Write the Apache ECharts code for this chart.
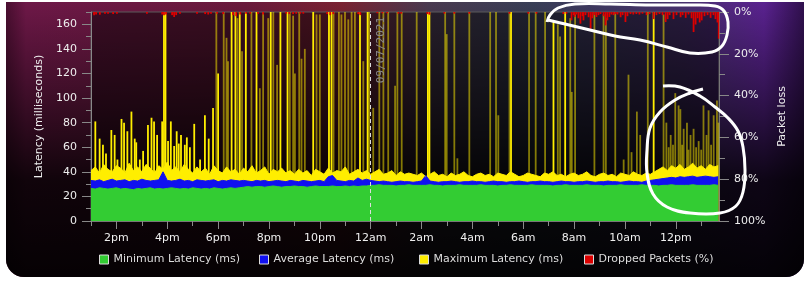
<!DOCTYPE html>
<html><head><meta charset="utf-8">
<script src="https://cdn.jsdelivr.net/npm/echarts@6/dist/echarts.min.js"></script>
<style>html,body{margin:0;padding:0;background:#fff;}#c{width:808px;height:283px;}</style>
</head><body><div id="c"></div>
<script>
// ---- data (time in hours since 00:00 of the first day; 10-minute samples from 13:00) ----
const START_HOUR = 13, STEP_HOURS = 1 / 6;
const minLatency = [
26.5,26,27,26.5,26,26.5,27,26,26.5,26, 25.5,26.5,26,26.5,27,26,26.5,26,26.5,27,
26.5,26,26.5,26,27,26.5,26,26.5,26,27, 26.5,26,26.5,27,26.5,27,
27.5,28,27.5,28,28,27.5,28,28.5,28,27.5, 28,28,28.5,28,28,27.5,28,28.5,28,28,
28,28.5,28,28,28.5,28,28.5,28,28.5,28.5,
29,29,29.5,29,29,29,28.5,29,29,29.5, 29,29,29,29,29.5,29,29,28.5,29,29,
29,29.5,29,29,29,29,29.5,29,29,29, 28.5,29,29,29.5,29,29,29,29,29.5,29,
29,29,29,28.5,29,29,29.5,29,29,29, 29,29.5,29,29,29,28.5,29,29,29,29.5,
29,29,29,29,29.5,29,29,29,28.5,29, 29,29.5,29,29,29,29,29.5,29,29,29, 29,29.5,29
];
const avgLatency = [
33,32.5,33.5,32,33,34,32.5,33,33.5,32, 33,32.5,34,33,32.5,33,33.5,40,33,32.5,
33,34,32.5,33,32,33.5,33,32.5,33,33.5, 32,33,32.5,33.5,33,32.5,
33,32.5,32,33,32.5,33,32,32.5,33,32.5, 32,33,32.5,32,33,32.5,32,32.5,33,32,
36,37,33,32.5,32,33,32.5,35,33,34,
33,32.5,32,32.5,32,31.5,32,32.5,32,32, 31.5,32,32.5,37,32.5,32,31.5,32,32,32.5,
32,31.5,32,32,32.5,32,32,31.5,32,32.5, 32,32,31.5,32,32,32.5,32,31.5,32,32,
32.5,32,32,31.5,32,32.5,32,32,31.5,32, 32,32.5,32,31.5,32,32,32.5,32,32,31.5,
32,32.5,32,32,31.5,32.5,33,
33.5,34,34.5,35,35.5,35,36,35.5,36,36.5,35.5,36,36.5,36,35.5,36
];
const maxLatencyBase = [
41,44,39,46,42,40,45,43,39,47, 41,44,40,46,43,39,45,42,48,41, 44,40,46,42,39,44,
40,43,38,45,41,39,44,40,42,38, 43,40,45,39,41,44,38,42,40,43, 39,41,38,42,
39,41,37,42,40,38,43,39,41,40, 44,38,40,42,39,41,38,40,42,38, 39,41,37,40,38,39,
38,37,39,36,38,40,37,38,36,39, 37,38,40,37,36,38,39,37,38,36, 39,38,37,40,38,36,37,39,38,37,
36,39,38,40,37,38,36,38,39,37, 38,40,37,36,38,39,37,38,36,39, 38,37,40,38,37,39,38,
40,42,44,41,45,43,46,42,44,47,43,45,42,46,44,45
];
// short bursts of maximum latency: [hour, ms]
const maxSpikesBright = [
[13.17,81],[13.34,67],[13.47,62],[13.59,55],[13.80,74],[13.93,70],[14.04,50],[14.20,83],[14.30,80],[14.43,73],
[14.59,89],[14.72,67],[14.78,64],[14.92,50],[15.05,57],[15.24,78],[15.38,84],[15.48,81],[15.60,70],[15.80,81],
[15.87,175],[15.93,175],[16.03,65],[16.14,81],[16.27,61],[16.37,73],[16.45,63],[16.54,70],[16.69,62],[16.77,68],
[16.89,60],[17.06,79],[17.29,50],[17.48,86],[17.63,67],[17.80,92],[18.00,120],[18.53,175],[18.68,175],[18.85,175],
[19.09,175],[19.51,175],[20.07,175],[20.45,175],[20.73,175],[21.74,175],[22.36,175],[22.46,175],[23.58,175],[23.88,175],
[26.25,175],[26.31,175],[29.52,175],[31.19,162],[31.65,175],[35.13,175]
];
const maxSpikesDim = [
[17.93,175],[18.22,175],[18.33,149],[18.39,130],[18.76,165],[18.94,138],[19.31,175],[19.64,108],[19.77,175],[19.97,165],
[20.17,175],[20.32,127],[20.82,175],[20.95,167],[21.02,120],[21.19,175],[21.28,132],[21.41,140],[21.87,168],[22.00,168],
[22.54,175],[22.75,175],[22.85,168],[22.99,175],[23.12,164],[23.25,175],[23.38,175],[23.71,130],[23.94,175],[24.10,92],
[24.34,175],[24.50,175],[24.69,175],[24.96,110],[25.05,175],[25.22,175],[25.81,175],[26.93,175],[26.99,152],[27.29,175],
[27.41,51],[27.88,175],[28.70,175],[28.93,175],[29.02,86],[29.46,175],[30.23,175],[30.49,175],[30.86,175],[31.36,160],
[31.45,150],[31.85,165],[31.91,105],[32.04,168],[32.80,175],[33.16,168],[33.25,165],[33.62,175],[33.95,50],[34.14,119],
[34.26,56],[34.47,89],[34.60,70],[34.90,175],[35.52,168],[35.63,80],[35.72,60],[35.80,70],[35.89,62],[35.98,104],
[36.11,94],[36.18,91],[36.25,62],[36.31,75],[36.44,80],[36.50,58],[36.58,70],[36.70,75],[36.80,60],[36.90,65],
[37.00,58],[37.09,94],[37.21,70],[37.29,90],[37.39,62],[37.49,86],[37.62,98],[37.68,80]
];
// dropped packets: [hour, percent]
const droppedPackets = [
[13.12,1.6],[13.20,1.2],[13.35,1.3],[13.55,0.8],[13.67,0.8],[13.87,1.0],[14.02,0.8],[15.20,0.8],[15.80,1.2],[15.87,1.5],
[15.95,1.2],[16.19,1.5],[16.27,2.4],[16.35,1.5],[16.50,0.8],[17.17,0.8],[17.49,1.0],[17.61,1.2],[17.72,0.8],[17.96,0.8],
[18.20,1.0],[18.59,1.5],[18.71,2.0],[18.87,1.2],[19.10,0.8],[19.26,0.8],[19.57,0.8],[19.77,1.2],[20.68,0.8],[20.80,1.0],
[20.95,1.0],[21.07,0.8],[21.23,0.8],[21.35,0.8],[22.29,1.0],[22.41,1.5],[22.53,1.0],[23.51,1.0],[23.59,1.5],[24.26,0.6],
[24.46,0.6],[24.65,0.6],[25.09,0.8],[25.20,0.8],[26.23,1.0],[26.31,1.3],[26.90,0.8],[27.29,0.8],[27.88,0.8],[29.46,0.8],
[30.20,0.8],[30.52,0.8],[31.58,1.0],[31.70,0.8],[31.90,4.0],[31.98,1.5],[32.02,2.4],[32.09,1.2],[32.17,3.0],[32.25,5.6],
[32.33,2.0],[32.37,4.0],[32.45,1.5],[32.57,2.5],[32.65,8.0],[32.72,3.0],[32.80,1.5],[32.88,2.4],[32.96,1.5],[33.04,1.0],
[33.16,2.0],[33.24,6.4],[33.31,4.0],[33.39,2.4],[33.47,1.2],[33.55,1.5],[33.63,1.0],[33.71,1.2],[33.83,2.5],[33.91,1.5],
[34.02,4.8],[34.10,2.0],[34.22,1.0],[34.33,1.2],[34.45,1.0],[34.57,1.2],[34.69,0.8],[34.85,1.5],[34.97,1.0],[35.13,3.4],
[35.24,1.5],[35.36,1.0],[35.48,1.5],[35.60,4.8],[35.68,3.4],[35.76,1.5],[35.91,3.4],[36.03,1.5],[36.19,2.5],[36.27,1.5],
[36.39,2.8],[36.50,1.2],[36.62,3.0],[36.70,9.6],[36.78,6.0],[36.86,3.0],[36.94,5.0],[37.02,4.0],[37.13,2.0],[37.25,1.5],
[37.37,2.8],[37.48,1.5],[37.56,3.4],[37.64,5.0],[37.69,12.8]
];
const xLabelHours = [14,16,18,20,22,24,26,28,30,32,34,36];
const xMinorHours = [13,15,17,19,21,23,25,27,29,31,33,35,37];
const yLabelValues = [0,20,40,60,80,100,120,140,160];
const yMinorValues = [10,30,50,70,90,110,130,150,170];
const seriesNames = ['Minimum Latency (ms)', 'Average Latency (ms)', 'Maximum Latency (ms)', 'Dropped Packets (%)'];
const dateMarkHour = 24, dateMarkLabel = '09/07/2021';
const X_MIN = 13, X_MAX = 37.7;

// ---- chart ----
const FONT = 'DejaVu Sans';
const toPairs = arr => arr.map((v, i) => [START_HOUR + i * STEP_HOURS, v]);
function hourLabel(h) {
  const hh = ((h % 24) + 24) % 24;
  if (hh === 0) return '12am';
  if (hh === 12) return '12pm';
  return hh < 12 ? hh + 'am' : (hh - 12) + 'pm';
}
const GREEN = '#33cc33', BLUE = '#1010f0', YELLOW = '#ffee00', RED = '#dd0000';
const legendColors = [GREEN, BLUE, YELLOW, RED];
const legendLefts = [99, 259, 419, 584];
const chart = echarts.init(document.getElementById('c'), null, {renderer: 'canvas'});
const areaLine = (name, data, color) => ({
  name, type: 'line', data, xAxisIndex: 0, yAxisIndex: 0, showSymbol: false, symbol: 'none',
  lineStyle: {width: 1, color}, itemStyle: {color}, areaStyle: {color, opacity: 1}, animation: false, silent: true
});
const barSeries = (name, data, color, yAxisIndex) => ({
  name, type: 'bar', data, xAxisIndex: 0, yAxisIndex, barWidth: 1.8, barGap: '-100%',
  itemStyle: {color}, animation: false, silent: true
});
const greenSeries = areaLine(seriesNames[0], toPairs(minLatency), GREEN);
greenSeries.markLine = {
  symbol: 'none', silent: true, animation: false,
  lineStyle: {color: '#dddddd', type: [4, 3], width: 1},
  label: {show: true, formatter: dateMarkLabel, position: 'insideEndBottom', distance: 5,
          color: '#8a8a8a', fontFamily: 'DejaVu Sans Mono', fontSize: 11},
  data: [{xAxis: dateMarkHour}]
};
const option = {
  animation: false,
  textStyle: {fontFamily: FONT},
  graphic: [
    {type: 'rect', z: -10, silent: true, shape: {x: 6, y: 2, width: 798, height: 275, r: [0, 0, 18, 18]},
     style: {fill: {type: 'linear', x: 0, y: 0, x2: 1, y2: 0, colorStops: [
       {offset: 0, color: '#4a0e30'}, {offset: 0.025, color: '#6e1848'}, {offset: 0.3, color: '#6a1a3c'},
       {offset: 0.42, color: '#7a2232'}, {offset: 0.53, color: '#4a3a50'}, {offset: 0.66, color: '#383e56'},
       {offset: 0.85, color: '#48306e'}, {offset: 0.95, color: '#5a2290'}, {offset: 1, color: '#30104e'}]}}},
    {type: 'rect', z: -9, silent: true, shape: {x: 6, y: 2, width: 798, height: 275, r: [0, 0, 18, 18]},
     style: {fill: {type: 'linear', x: 0, y: 0, x2: 0, y2: 1, colorStops: [
       {offset: 0, color: 'rgba(0,0,0,0)'}, {offset: 0.35, color: 'rgba(0,0,0,0.45)'},
       {offset: 0.65, color: 'rgba(0,0,0,0.85)'}, {offset: 1, color: 'rgba(0,0,0,0.95)'}]}}},
    {type: 'polyline', z: 100, silent: true,
     shape: {smooth: 0.4, points: [[547,22],[550,15],[558,8],[575,4],[610,4],[650,5],[690,5],[715,6],[724,11],[728,22],
       [727,35],[722,46],[712,52],[690,53],[667,47],[640,40],[615,36],[590,30],[565,24],[548,20]]},
     style: {stroke: '#ffffff', lineWidth: 3, fill: null}},
    {type: 'polyline', z: 100, silent: true,
     shape: {smooth: 0.4, points: [[663,86],[680,87],[700,96],[715,107],[728,118],[738,131],[743,147],[745,170],[743,192],
       [736,206],[720,213],[690,213],[667,207],[653,194],[647,173],[647,150],[650,128],[660,112],[675,100],[690,93],[703,89]]},
     style: {stroke: '#ffffff', lineWidth: 3, fill: null}}
  ],
  grid: {left: 91, right: 89, top: 12, bottom: 62, show: true, borderColor: '#5a5a5a', borderWidth: 1,
         backgroundColor: 'rgba(0,0,0,0.45)'},
  legend: seriesNames.map((name, i) => ({
    left: legendLefts[i], top: 254, padding: 0, itemWidth: 9, itemHeight: 9, icon: 'rect',
    textStyle: {color: '#dddddd', fontSize: 11, fontFamily: FONT},
    itemStyle: {borderColor: '#dddddd', borderWidth: 1},
    data: [{name, itemStyle: {color: legendColors[i]}}]
  })),
  xAxis: [
    {type: 'value', min: X_MIN, max: X_MAX, position: 'bottom',
     axisLine: {show: true, lineStyle: {color: '#777777'}},
     axisTick: {show: true, customValues: xLabelHours, length: 8, lineStyle: {color: '#8a8a8a'}},
     axisLabel: {customValues: xLabelHours, formatter: hourLabel, color: '#eeeeee', fontSize: 11, margin: 12, fontFamily: FONT},
     splitLine: {show: false}},
    {type: 'value', min: X_MIN, max: X_MAX, position: 'bottom',
     axisLine: {show: false},
     axisTick: {show: true, customValues: xMinorHours, length: 5, lineStyle: {color: '#8a8a8a'}},
     axisLabel: {show: false}, splitLine: {show: false}}
  ],
  yAxis: [
    {type: 'value', min: 0, max: 170, position: 'left',
     name: 'Latency (milliseconds)', nameLocation: 'middle', nameRotate: 90, nameGap: 45,
     nameTextStyle: {color: '#eeeeee', fontSize: 11, fontFamily: FONT},
     axisLine: {show: true, lineStyle: {color: '#888888'}},
     axisTick: {show: true, customValues: yLabelValues, length: 9, lineStyle: {color: '#888888'}},
     axisLabel: {customValues: yLabelValues, color: '#eeeeee', fontSize: 11, margin: 14, fontFamily: FONT},
     splitLine: {show: false}},
    {type: 'value', min: 0, max: 170, position: 'left',
     axisLine: {show: false},
     axisTick: {show: true, customValues: yMinorValues, length: 5, lineStyle: {color: '#888888'}},
     axisLabel: {show: false}, splitLine: {show: false}},
    {type: 'value', min: 0, max: 100, interval: 20, inverse: true, position: 'right',
     name: 'Packet loss', nameLocation: 'middle', nameRotate: 90, nameGap: 52,
     nameTextStyle: {color: '#eeeeee', fontSize: 11, fontFamily: FONT},
     axisLine: {show: true, lineStyle: {color: '#777777'}},
     axisTick: {show: true, length: 10, lineStyle: {color: '#888888'}},
     minorTick: {show: true, splitNumber: 2, length: 6, lineStyle: {color: '#888888'}},
     axisLabel: {formatter: '{value}%', color: '#eeeeee', fontSize: 11, margin: 15, fontFamily: FONT},
     splitLine: {show: false}}
  ],
  series: [
    areaLine(seriesNames[2], toPairs(maxLatencyBase), YELLOW),
    barSeries('maxSpikesBright', maxSpikesBright, YELLOW, 0),
    barSeries('maxSpikesDim', maxSpikesDim, 'rgba(255,238,0,0.5)', 0),
    areaLine(seriesNames[1], toPairs(avgLatency), BLUE),
    greenSeries,
    barSeries(seriesNames[3], droppedPackets, RED, 2)
  ]
};
chart.setOption(option);
</script></body></html>
